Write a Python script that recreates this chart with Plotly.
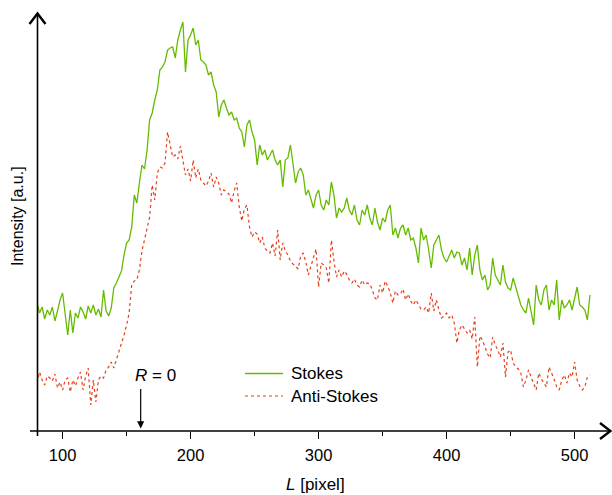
import numpy as np
import plotly.graph_objects as go

# Pixel position along the fibre image (step of 2 px)
L = np.arange(80, 513, 2)

stokes = [
    128, 118, 124, 112, 121, 116, 124, 110, 120, 131,
    138, 114, 96, 121, 98, 118, 113, 124, 119, 112,
    125, 118, 126, 116, 122, 114, 141, 120, 115, 123,
    143, 148, 154, 160, 176, 188, 191, 204, 236, 228,
    248, 266, 262, 281, 311, 318, 331, 341, 361, 364,
    369, 381, 383, 384, 373, 391, 401, 409, 359, 391,
    396, 403, 386, 391, 371, 369, 366, 356, 359, 346,
    339, 314, 326, 331, 323, 316, 319, 311, 313, 303,
    299, 284, 306, 311, 299, 291, 266, 286, 276, 281,
    271, 276, 281, 271, 266, 271, 244, 271, 273, 286,
    266, 248, 259, 263, 256, 236, 241, 231, 223, 236,
    241, 226, 221, 231, 226, 249, 236, 213, 223, 219,
    223, 233, 221, 216, 226, 211, 206, 221, 216, 226,
    213, 206, 223, 209, 201, 213, 209, 221, 226, 196,
    203, 193, 203, 206, 196, 203, 191, 193, 183, 168,
    203, 191, 196, 181, 163, 186, 191, 196, 181, 173,
    169, 176, 181, 173, 179, 178, 166, 173, 161, 183,
    156, 176, 186, 161, 151, 156, 141, 146, 173, 156,
    151, 146, 166, 149, 143, 141, 153, 143, 133, 126,
    121, 118, 133, 121, 106, 146, 131, 126, 141, 146,
    121, 131, 126, 151, 111, 131, 123, 126, 131, 121,
    133, 144, 126, 124, 121, 111, 136,
]

anti_stokes = [
    48, 59, 51, 46, 55, 53, 50, 57, 43, 49,
    41, 51, 53, 39, 51, 45, 53, 59, 41, 55,
    63, 26, 51, 29, 51, 55, 53, 61, 64, 69,
    63, 71, 81, 88, 96, 106, 118, 146, 150, 151,
    161, 180, 192, 201, 214, 246, 231, 258, 264, 263,
    268, 299, 286, 274, 276, 272, 285, 270, 256, 262,
    250, 271, 253, 262, 251, 248, 245, 250, 258, 244,
    254, 248, 236, 241, 239, 237, 228, 240, 248, 224,
    210, 222, 226, 204, 194, 199, 197, 188, 194, 183,
    180, 178, 188, 175, 201, 171, 188, 180, 176, 170,
    167, 165, 162, 175, 178, 169, 156, 165, 172, 182,
    144, 168, 166, 163, 148, 191, 170, 154, 161, 154,
    160, 157, 151, 148, 152, 146, 144, 151, 146, 148,
    147, 141, 133, 131, 146, 138, 150, 145, 138, 128,
    140, 136, 137, 142, 131, 137, 130, 126, 131, 127,
    122, 121, 124, 118, 138, 120, 131, 121, 113, 115,
    118, 113, 116, 108, 88, 101, 106, 102, 98, 101,
    92, 114, 64, 95, 91, 84, 77, 73, 94, 86,
    81, 74, 88, 54, 79, 81, 68, 64, 62, 58,
    44, 51, 61, 54, 48, 41, 58, 52, 48, 44,
    64, 58, 52, 44, 41, 51, 56, 48, 58, 54,
    69, 51, 45, 41, 44, 54, 56,
]

x_ticks = [100, 200, 300, 400, 500]
x_minor = [150, 250, 350, 450]
R0_position = 161

GREEN = "#66bb00"
RED = "#e8401c"
FONT = "Liberation Sans, Arial, sans-serif"

W, H = 612, 495
ML, MR, MT, MB = 37, 0, 13, 64
PW, PH = W - ML - MR, H - MT - MB
PX_PER_UNIT = 1.28


def px(x):
    return (x - ML) / PW


def py(y):
    return (H - MB - y) / PH


fig = go.Figure()
fig.add_trace(go.Scatter(x=L, y=stokes, mode="lines", name="Stokes",
                         line=dict(color=GREEN, width=1.3), showlegend=False))
fig.add_trace(go.Scatter(x=L, y=anti_stokes, mode="lines", name="Anti-Stokes",
                         line=dict(color=RED, width=1.2, dash="dot"), showlegend=False))

shapes = [
    # axis lines
    dict(type="line", xref="paper", yref="paper", x0=px(30), x1=px(611), y0=py(431), y1=py(431),
         line=dict(color="black", width=1.6)),
    dict(type="line", xref="paper", yref="paper", x0=px(37.5), x1=px(37.5), y0=py(436), y1=py(13),
         line=dict(color="black", width=1.6)),
    # arrow heads
    dict(type="path", xref="paper", yref="paper",
         path=f"M {px(29.5)} {py(24)} L {px(37.5)} {py(13.5)} L {px(45.5)} {py(24)}",
         line=dict(color="black", width=2.4)),
    dict(type="path", xref="paper", yref="paper",
         path=f"M {px(600)} {py(423)} L {px(610.5)} {py(431)} L {px(600)} {py(439)}",
         line=dict(color="black", width=2.4)),
    # legend samples
    dict(type="line", xref="paper", yref="paper", x0=px(245), x1=px(283), y0=py(373.5), y1=py(373.5),
         line=dict(color=GREEN, width=1.3)),
    dict(type="line", xref="paper", yref="paper", x0=px(245), x1=px(283), y0=py(396), y1=py(396),
         line=dict(color=RED, width=1.2, dash="dot")),
]

annotations = [
    dict(xref="paper", yref="paper", x=px(289), y=py(373.5), text="Stokes", showarrow=False,
         xanchor="left", yanchor="middle", font=dict(size=17, color="black", family=FONT)),
    dict(xref="paper", yref="paper", x=px(289), y=py(396), text="Anti-Stokes", showarrow=False,
         xanchor="left", yanchor="middle", font=dict(size=17, color="black", family=FONT)),
    dict(xref="paper", yref="paper", x=px(155), y=py(375), text="<i>R</i> = 0", showarrow=False,
         xanchor="center", yanchor="middle", font=dict(size=17, color="black", family=FONT)),
    dict(x=R0_position, y=2.5, xref="x", yref="y", text="", showarrow=True,
         ax=0, ay=-41, arrowhead=2, arrowsize=1.2, arrowwidth=1.2, arrowcolor="black"),
    dict(xref="paper", yref="paper", x=px(315), y=py(484), text="<i>L</i> [pixel]", showarrow=False,
         xanchor="center", yanchor="middle", font=dict(size=17, color="black", family=FONT)),
    dict(xref="paper", yref="paper", x=px(17), y=py(216), text="Intensity [a.u.]", showarrow=False,
         textangle=-90, xanchor="center", yanchor="middle",
         font=dict(size=16, color="black", family=FONT)),
]

fig.update_layout(
    width=W, height=H,
    margin=dict(l=ML, r=MR, t=MT, b=MB),
    paper_bgcolor="white", plot_bgcolor="white",
    font=dict(family=FONT, size=16, color="black"),
    xaxis=dict(range=[80, 80 + PW / PX_PER_UNIT], showgrid=False, zeroline=False, showline=False,
               tickmode="array", tickvals=x_ticks, ticks="outside", ticklen=7, tickwidth=1.4,
               tickcolor="black", tickfont=dict(size=16.5, family=FONT), ticklabelstandoff=2,
               minor=dict(tickmode="array", tickvals=x_minor, ticks="outside", ticklen=4,
                          tickwidth=1.4, tickcolor="black")),
    yaxis=dict(range=[0, PH], showgrid=False, zeroline=False, showline=False,
               showticklabels=False, ticks=""),
    shapes=shapes,
    annotations=annotations,
    showlegend=False,
)

fig.write_html("out.html")
